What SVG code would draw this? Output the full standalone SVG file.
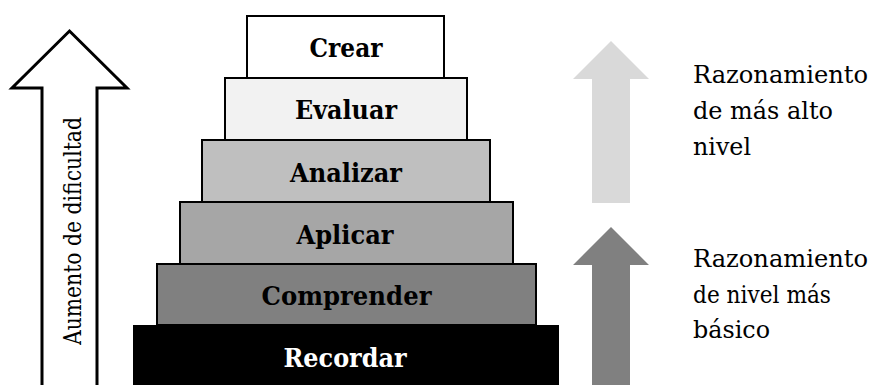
<svg xmlns="http://www.w3.org/2000/svg" width="876" height="385" viewBox="0 0 876 385">
<style>
.lvl{stroke:#000;stroke-width:2}
.lt{font-family:"DejaVu Serif","Liberation Serif",serif;font-weight:bold;font-size:26px;text-anchor:middle}
.rt{font-family:"DejaVu Serif","Liberation Serif",serif;font-size:25px;fill:#000}
</style>
<rect width="876" height="385" fill="#fff"/>
<g id="arrow-dificultad">
<path d="M42,390 L42,88 L12,88 L69.5,31 L127,88 L97,88 L97,390" fill="#fff" stroke="#000" stroke-width="3" stroke-linejoin="miter"/>
<text transform="translate(80.5,231) rotate(-90)" font-family="DejaVu Serif, Liberation Serif, serif" font-size="24.5" text-anchor="middle" textLength="228" lengthAdjust="spacingAndGlyphs">Aumento de dificultad</text>
</g>
<g id="crear">
<rect class="lvl" x="247" y="16" width="197" height="62" fill="#fff"/>
<text class="lt" x="346" y="57" textLength="73" lengthAdjust="spacingAndGlyphs">Crear</text>
</g>
<g id="evaluar">
<rect class="lvl" x="225" y="78" width="242" height="62" fill="#f2f2f2"/>
<text class="lt" x="346" y="119" textLength="102" lengthAdjust="spacingAndGlyphs">Evaluar</text>
</g>
<g id="analizar">
<rect class="lvl" x="202" y="140" width="288" height="62" fill="#bfbfbf"/>
<text class="lt" x="346" y="181.5" textLength="112" lengthAdjust="spacingAndGlyphs">Analizar</text>
</g>
<g id="aplicar">
<rect class="lvl" x="180" y="202" width="333" height="62" fill="#a6a6a6"/>
<text class="lt" x="345" y="243.5" textLength="97" lengthAdjust="spacingAndGlyphs">Aplicar</text>
</g>
<g id="comprender">
<rect class="lvl" x="157" y="264" width="379" height="61" fill="#808080"/>
<text class="lt" x="346.5" y="305" textLength="170" lengthAdjust="spacingAndGlyphs">Comprender</text>
</g>
<g id="recordar">
<rect x="133" y="325" width="426" height="62" fill="#000"/>
<text class="lt" x="345" y="367" fill="#fff" textLength="123" lengthAdjust="spacingAndGlyphs">Recordar</text>
</g>
<g id="arrow-alto">
<path d="M592,203 L592,79 L573,79 L611,41 L649,79 L630,79 L630,203 Z" fill="#d9d9d9"/>
<text class="rt" x="693" y="83" textLength="175" lengthAdjust="spacingAndGlyphs">Razonamiento</text>
<text class="rt" x="693" y="119" textLength="140" lengthAdjust="spacingAndGlyphs">de más alto</text>
<text class="rt" x="693" y="155" textLength="58" lengthAdjust="spacingAndGlyphs">nivel</text>
</g>
<g id="arrow-basico">
<path d="M592,386 L592,265 L573,265 L611,227 L649,265 L630,265 L630,386 Z" fill="#808080"/>
<text class="rt" x="693" y="267" textLength="175" lengthAdjust="spacingAndGlyphs">Razonamiento</text>
<text class="rt" x="693" y="303" textLength="138" lengthAdjust="spacingAndGlyphs">de nivel más</text>
<text class="rt" x="693" y="338" textLength="77" lengthAdjust="spacingAndGlyphs">básico</text>
</g>
<g id="connectors"/>
</svg>
